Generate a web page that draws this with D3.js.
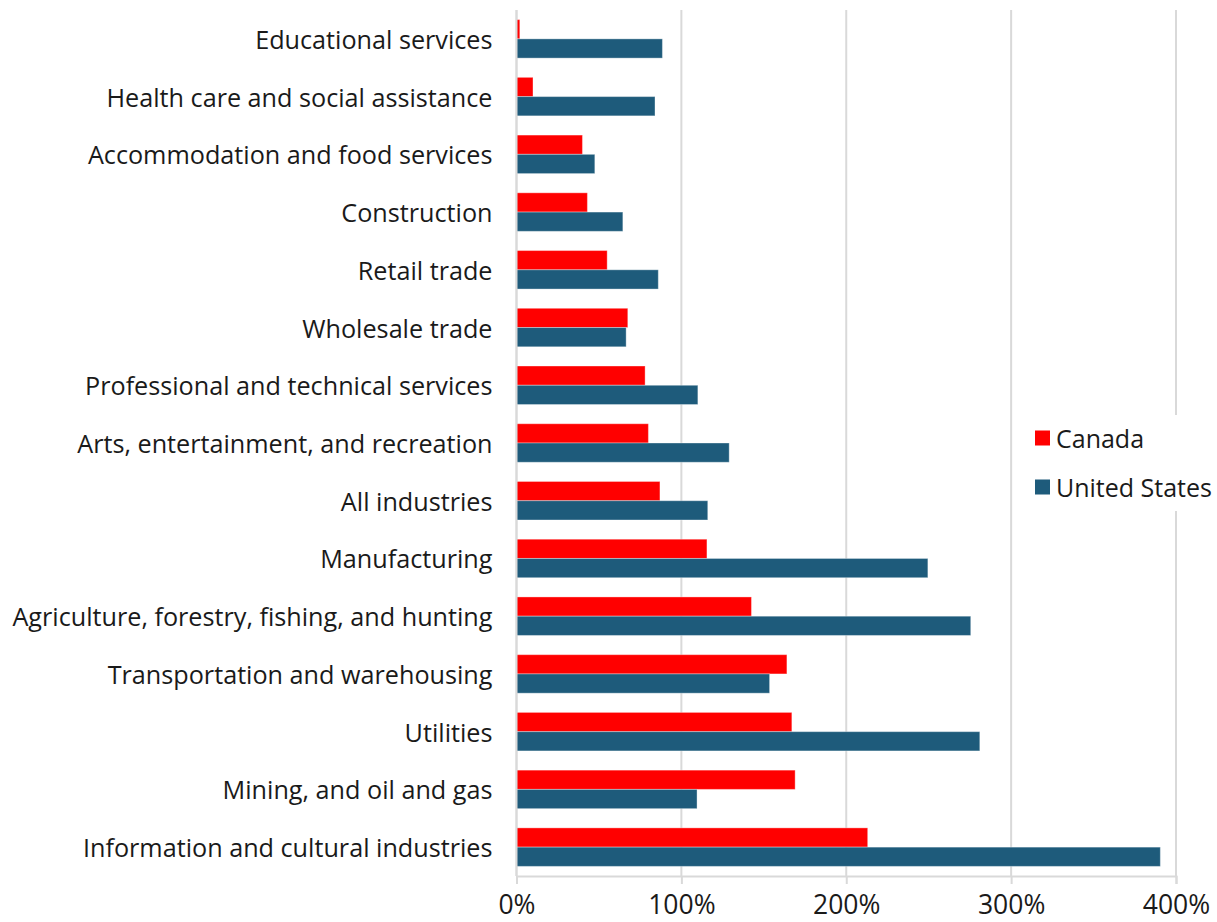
<!DOCTYPE html>
<html>
<head>
<meta charset="utf-8">
<script src="https://cdn.jsdelivr.net/npm/d3@7/dist/d3.min.js"></script>
<style>
  html, body { margin: 0; padding: 0; background: #fff; }
  svg { display: block; font-family: "Open Sans", Roboto, sans-serif; }
</style>
</head>
<body>
<svg id="chart" width="1217" height="922"></svg>
<script>
// Industries, top to bottom
const industries = [
  "Educational services",
  "Health care and social assistance",
  "Accommodation and food services",
  "Construction",
  "Retail trade",
  "Wholesale trade",
  "Professional and technical services",
  "Arts, entertainment, and recreation",
  "All industries",
  "Manufacturing",
  "Agriculture, forestry, fishing, and hunting",
  "Transportation and warehousing",
  "Utilities",
  "Mining, and oil and gas",
  "Information and cultural industries"
];

// Percent values per country
const canada = [2, 10, 40, 43, 55, 67.5, 78, 80, 87, 115.5, 142.5, 164, 167, 169, 213];
const unitedStates = [88.5, 84, 47.5, 64.5, 86, 66.5, 110, 129, 116, 249.5, 275.5, 153.5, 281, 109.5, 390.5];

const seriesNames = ["Canada", "United States"];
const seriesColors = ["#ff0000", "#1e5b7b"];
const xTicks = [0, 100, 200, 300, 400];

const svg = d3.select("#chart");
const margin = { top: 10, right: 41, bottom: 46, left: 516.5 };
const width = 1217 - margin.left - margin.right;
const height = 922 - margin.top - margin.bottom;

const g = svg.append("g").attr("transform", `translate(${margin.left},${margin.top})`);

const x = d3.scaleLinear().domain([0, 400]).range([0, width]);
const y = d3.scaleBand().domain(industries).range([0, height]).paddingInner(0.333).paddingOuter(0.1665);
const sub = d3.scaleBand().domain(seriesNames).range([0, y.bandwidth()]);

// Vertical gridlines
g.append("g").selectAll("line")
  .data(xTicks)
  .join("line")
  .attr("x1", d => x(d)).attr("x2", d => x(d))
  .attr("y1", 0).attr("y2", height)
  .attr("stroke", "#d9d9d9").attr("stroke-width", 2);

// Bars
const rows = industries.map((name, i) => ({ name, values: [canada[i], unitedStates[i]] }));
const groups = g.append("g").selectAll("g")
  .data(rows)
  .join("g")
  .attr("transform", d => `translate(0,${y(d.name)})`);

groups.selectAll("rect")
  .data(d => d.values.map((v, j) => ({ series: seriesNames[j], value: v, color: seriesColors[j] })))
  .join("rect")
  .attr("x", x(0))
  .attr("y", d => sub(d.series))
  .attr("width", d => x(d.value) - x(0))
  .attr("height", sub.bandwidth())
  .attr("fill", d => d.color)
  .attr("stroke", "#ffffff").attr("stroke-opacity", 0.35).attr("stroke-width", 1);

// Category labels
g.append("g").selectAll("text")
  .data(industries)
  .join("text")
  .attr("x", -24)
  .attr("y", d => y(d) + y.bandwidth() / 2)
  .attr("text-anchor", "end")
  .attr("dominant-baseline", "central")
  .attr("font-size", 25.2)
  .attr("fill", "#1a1a1a")
  .text(d => d);

// Bottom axis
const xAxis = g.append("g")
  .attr("transform", `translate(0,${height})`)
  .call(d3.axisBottom(x).tickValues(xTicks).tickFormat(d => d + "%").tickSize(8));
xAxis.select(".domain").attr("stroke", "#d9d9d9").attr("stroke-width", 2);
xAxis.selectAll(".tick line").attr("stroke", "#d9d9d9").attr("stroke-width", 2);
xAxis.selectAll(".tick text")
  .attr("y", 38).attr("dy", null)
  .attr("font-size", 26.5).attr("fill", "#1a1a1a")
  .attr("font-family", "'Open Sans', Roboto, sans-serif");

// Left axis line
g.append("line")
  .attr("x1", 0).attr("x2", 0).attr("y1", 0).attr("y2", height)
  .attr("stroke", "#d9d9d9").attr("stroke-width", 2);

// Legend
const legend = svg.append("g").attr("transform", "translate(1020,415)");
legend.append("rect").attr("width", 197).attr("height", 96).attr("fill", "#fff");
const items = legend.selectAll("g.item")
  .data(seriesNames)
  .join("g")
  .attr("class", "item")
  .attr("transform", (d, i) => `translate(15,${23 + i * 49})`);
items.append("rect")
  .attr("x", 0).attr("y", -7.5)
  .attr("width", 15).attr("height", 15)
  .attr("fill", (d, i) => seriesColors[i]);
items.append("text")
  .attr("x", 21).attr("y", 0)
  .attr("dominant-baseline", "central")
  .attr("font-size", 25)
  .attr("fill", "#1a1a1a")
  .text(d => d);
</script>
</body>
</html>
